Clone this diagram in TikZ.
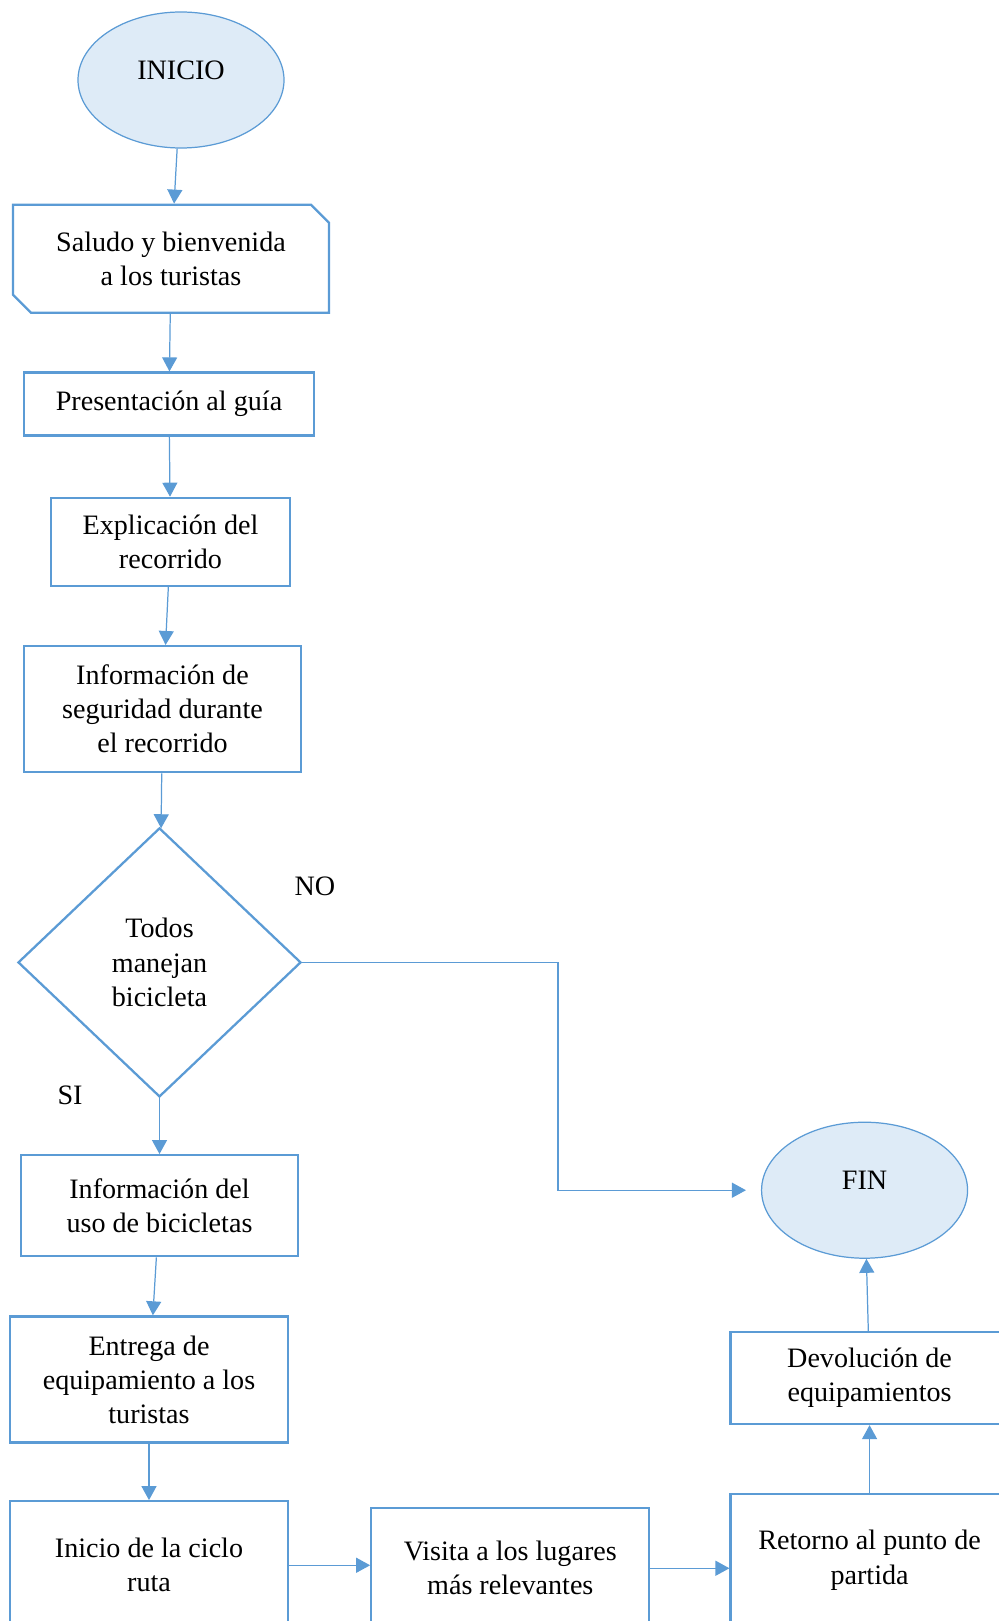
\documentclass[tikz,border=0pt]{standalone}
\usepackage{fontspec}
\setmainfont{Liberation Serif}
\usetikzlibrary{arrows.meta,positioning,shapes.geometric,shapes.misc}
\definecolor{flowblue}{HTML}{5B9BD5}
\definecolor{flowfill}{HTML}{DEEBF7}

\begin{document}
\begin{tikzpicture}[
  font=\fontsize{16}{19.4}\selectfont,
  box/.style={rectangle,draw=flowblue,line width=1.3pt,align=center,
              minimum width=5.56cm,inner sep=2pt},
  term/.style={ellipse,draw=flowblue,line width=0.7pt,fill=flowfill,
               minimum width=4.12cm,minimum height=2.72cm},
  decide/.style={diamond,draw=flowblue,line width=1.3pt,align=center,
                 minimum width=5.66cm,minimum height=5.38cm,aspect=1.05,inner sep=0pt},
  arr/.style={-{Triangle[length=0.28cm,width=0.3cm]},flowblue,line width=0.7pt}
]
\useasboundingbox (0,0) rectangle (19.98,-32.42);
\clip (0,0) rectangle (19.98,-32.42);

\node[term] (inicio) at (3.62,-1.60) {\raisebox{0.4cm}{INICIO}};
\node[box,chamfered rectangle,chamfered rectangle corners={north east,south west},
      chamfered rectangle sep=0.18cm,minimum width=6.32cm,minimum height=2.16cm]
      (saludo) [below=1.1cm of inicio,xshift=-0.2cm] {Saludo y bienvenida\\a los turistas};
\node[box,minimum width=5.8cm,minimum height=1.26cm] (presen) [below=1.15cm of saludo,xshift=-0.04cm] {Presentación al guía};
\node[box,minimum width=4.78cm,minimum height=1.76cm] (explic) [below=1.2cm of presen,xshift=0.03cm] {Explicación del\\recorrido};
\node[box,minimum width=5.54cm,minimum height=2.52cm] (infoseg) [below=1.16cm of explic,xshift=-0.16cm] {Información de\\seguridad durante\\el recorrido};
\node[decide] (decision) [below=1.07cm of infoseg,xshift=-0.06cm] {Todos\\manejan\\bicicleta};
\node[box,minimum width=5.54cm,minimum height=2.02cm] (usobici) [below=1.12cm of decision] {Información del\\uso de bicicletas};
\node[box,minimum height=2.52cm] (entrega) [below=1.16cm of usobici,xshift=-0.21cm] {Entrega de\\equipamiento a los\\turistas};
\node[box,minimum height=2.56cm] (ciclo) [below=1.13cm of entrega] {Inicio de la ciclo\\ruta};
\node[box,minimum height=2.4cm] (visita) [right=1.62cm of ciclo,yshift=-0.06cm] {Visita a los lugares\\más relevantes};
\node[box,minimum height=2.64cm] (retorno) [right=1.58cm of visita,yshift=0.16cm] {Retorno al punto de\\partida};
\node[box,minimum height=1.84cm] (devol) [above=1.36cm of retorno] {Devolución de\\equipamientos};
\node[term] (fin) [above=1.44cm of devol,xshift=-0.1cm] {\raisebox{0.4cm}{FIN}};

\node (nolbl) at (6.30,-17.72) {NO};
\node (silbl) at (1.40,-21.90) {SI};
\coordinate (noturn) at (11.16,0);

\draw[arr] (inicio) -- (saludo);
\draw[arr] (saludo) -- (presen);
\draw[arr] (presen) -- (explic);
\draw[arr] (explic) -- (infoseg);
\draw[arr] (infoseg) -- (decision);
\draw[arr] (decision) -- (usobici);
\draw[arr] (decision.east) -- (decision.east -| noturn) |- ([xshift=-0.3cm]fin.west);
\draw[arr] (usobici) -- (entrega);
\draw[arr] (entrega) -- (ciclo);
\draw[arr] (ciclo.east) -- (ciclo.east -| visita.west);
\draw[arr] (visita.east) -- (visita.east -| retorno.west);
\draw[arr] (retorno) -- (devol);
\draw[arr] (devol) -- (fin);
\end{tikzpicture}
\end{document}
